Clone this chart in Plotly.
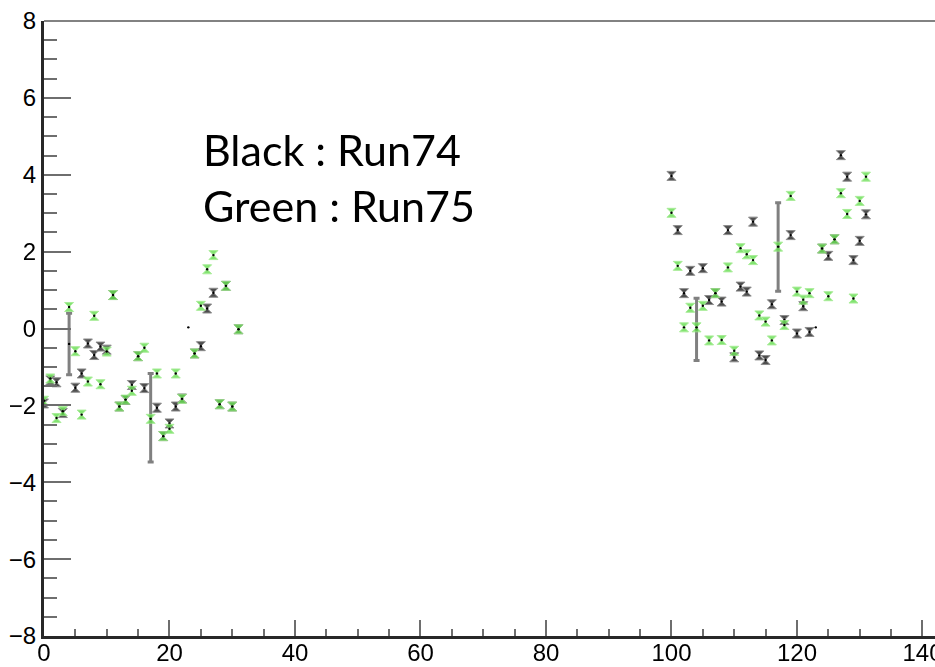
import plotly.graph_objects as go

# ---------------- data ----------------
x_left = list(range(0, 32))
x_right = list(range(100, 132))

run74_left = [-1.95, -1.35, -1.40, -2.20, -0.40, -1.54, -1.17, -0.39, -0.69, -0.47,
              -0.55, 0.87, -2.03, -1.86, -1.47, -0.72, -1.55, -2.32, -2.06, -2.80,
              -2.47, -2.03, -1.82, 0.03, -0.65, -0.46, 0.52, 0.93, -1.97, 1.11,
              -2.03, -0.02]
run74_right = [3.97, 2.56, 0.92, 1.50, -0.02, 1.57, 0.74, 0.92, 0.70, 2.56,
               -0.75, 1.09, 0.96, 2.78, -0.70, -0.82, 0.63, 2.12, 0.22, 2.43,
               -0.13, 0.58, -0.09, 0.03, 2.08, 1.89, 2.32, 4.51, 3.95, 1.78,
               2.28, 2.97]
run75_left = [-1.88, -1.30, -2.33, -2.15, 0.56, -0.59, -2.24, -1.38, 0.33, -1.45,
              -0.60, 0.87, -2.03, -1.85, -1.62, -0.72, -0.50, -2.35, -1.17, -2.80,
              -2.61, -1.17, -1.83, None, -0.65, 0.59, 1.54, 1.91, -1.97, 1.11,
              -2.03, -0.02]
run75_right = [3.01, 1.63, 0.03, 0.54, 0.03, 0.59, -0.31, 0.92, -0.30, 1.59,
               -0.58, 2.09, 1.93, 1.78, 0.34, 0.18, -0.31, 2.13, 0.09, 3.45,
               0.96, 0.75, 0.92, None, 2.08, 0.84, 2.32, 3.52, 2.98, 0.78,
               3.32, 3.95]

big_err_x = [4, 17, 104, 117]
big_err_val = [0.80, 1.15, 0.81, 1.15]
dot_only_x = [23, 123]

x_ticks = [0, 20, 40, 60, 80, 100, 120, 140]
y_ticks = [-8, -6, -4, -2, 0, 2, 4, 6, 8]
legend_lines = ["Black : Run74", "Green : Run75"]

# ---------------- build ----------------
channels = x_left + x_right
run74 = run74_left + run74_right
run75 = run75_left + run75_right

GREEN = "rgb(104,222,84)"
DARK = "rgb(78,78,78)"

fig = go.Figure()

# large error bars (Run74)
be_y = [run74[channels.index(v)] for v in big_err_x]
fig.add_trace(go.Scatter(
    x=big_err_x, y=be_y, mode="markers",
    marker=dict(size=2, color="black"),
    error_y=dict(type="data", array=big_err_val, visible=True,
                 color="rgb(128,128,128)", thickness=3, width=3),
    showlegend=False, hoverinfo="skip"))

# Run74 hourglass markers
bx = [c for c in channels if c not in big_err_x and c not in dot_only_x]
by = [run74[channels.index(c)] for c in bx]
fig.add_trace(go.Scatter(
    x=bx, y=by, mode="markers",
    marker=dict(symbol="hourglass", size=9, color=DARK,
                line=dict(width=1, color="rgb(140,140,140)")),
    showlegend=False))

# Run74 centre dots
fig.add_trace(go.Scatter(
    x=channels, y=run74, mode="markers",
    marker=dict(size=2.4, color="black"), showlegend=False))

# Run75 hourglass markers
gx = [c for c, v in zip(channels, run75) if v is not None]
gy = [v for v in run75 if v is not None]
fig.add_trace(go.Scatter(
    x=gx, y=gy, mode="markers", opacity=0.82,
    marker=dict(symbol="hourglass", size=9, color=GREEN,
                line=dict(width=1, color="rgb(150,232,130)")),
    showlegend=False))
fig.add_trace(go.Scatter(
    x=gx, y=gy, mode="markers",
    marker=dict(size=2.4, color="black"), showlegend=False))

# top frame line
fig.add_shape(type="line", xref="paper", yref="paper", x0=0, x1=1, y0=1, y1=1,
              line=dict(color="rgb(130,130,130)", width=2))

fig.add_annotation(
    xref="paper", yref="paper", x=0.176, y=0.745, xanchor="left", yanchor="middle",
    align="left", showarrow=False,
    text="<br>".join(legend_lines),
    font=dict(family="Lato", size=43, color="black"))

tickfont = dict(family="Liberation Sans", size=24, color="black")

fig.update_layout(
    width=935, height=667,
    margin=dict(l=44, r=0, t=21, b=31, autoexpand=False),
    paper_bgcolor="white", plot_bgcolor="white",
    xaxis=dict(range=[0, 142], tickvals=x_ticks, ticks="inside", ticklen=16,
               tickwidth=2, tickcolor="rgb(110,110,110)", automargin=False,
               ticklabelstandoff=-7, ticklabeloverflow="allow",
               minor=dict(dtick=5, ticks="inside", ticklen=7, tickwidth=1.5,
                          tickcolor="rgb(110,110,110)", showgrid=False),
               showgrid=False, zeroline=False, showline=True, linewidth=3,
               linecolor="rgb(40,40,40)", tickfont=tickfont),
    yaxis=dict(range=[-8, 8], tickvals=y_ticks, ticks="inside", ticklen=27,
               tickwidth=2, tickcolor="rgb(110,110,110)", automargin=False,
               ticklabeloverflow="allow",
               minor=dict(dtick=0.5, ticks="inside", ticklen=13, tickwidth=2,
                          tickcolor="rgb(110,110,110)", showgrid=False),
               showgrid=False, zeroline=False, showline=True, linewidth=3,
               linecolor="rgb(40,40,40)", tickfont=tickfont),
)

fig.write_html("out.html")
